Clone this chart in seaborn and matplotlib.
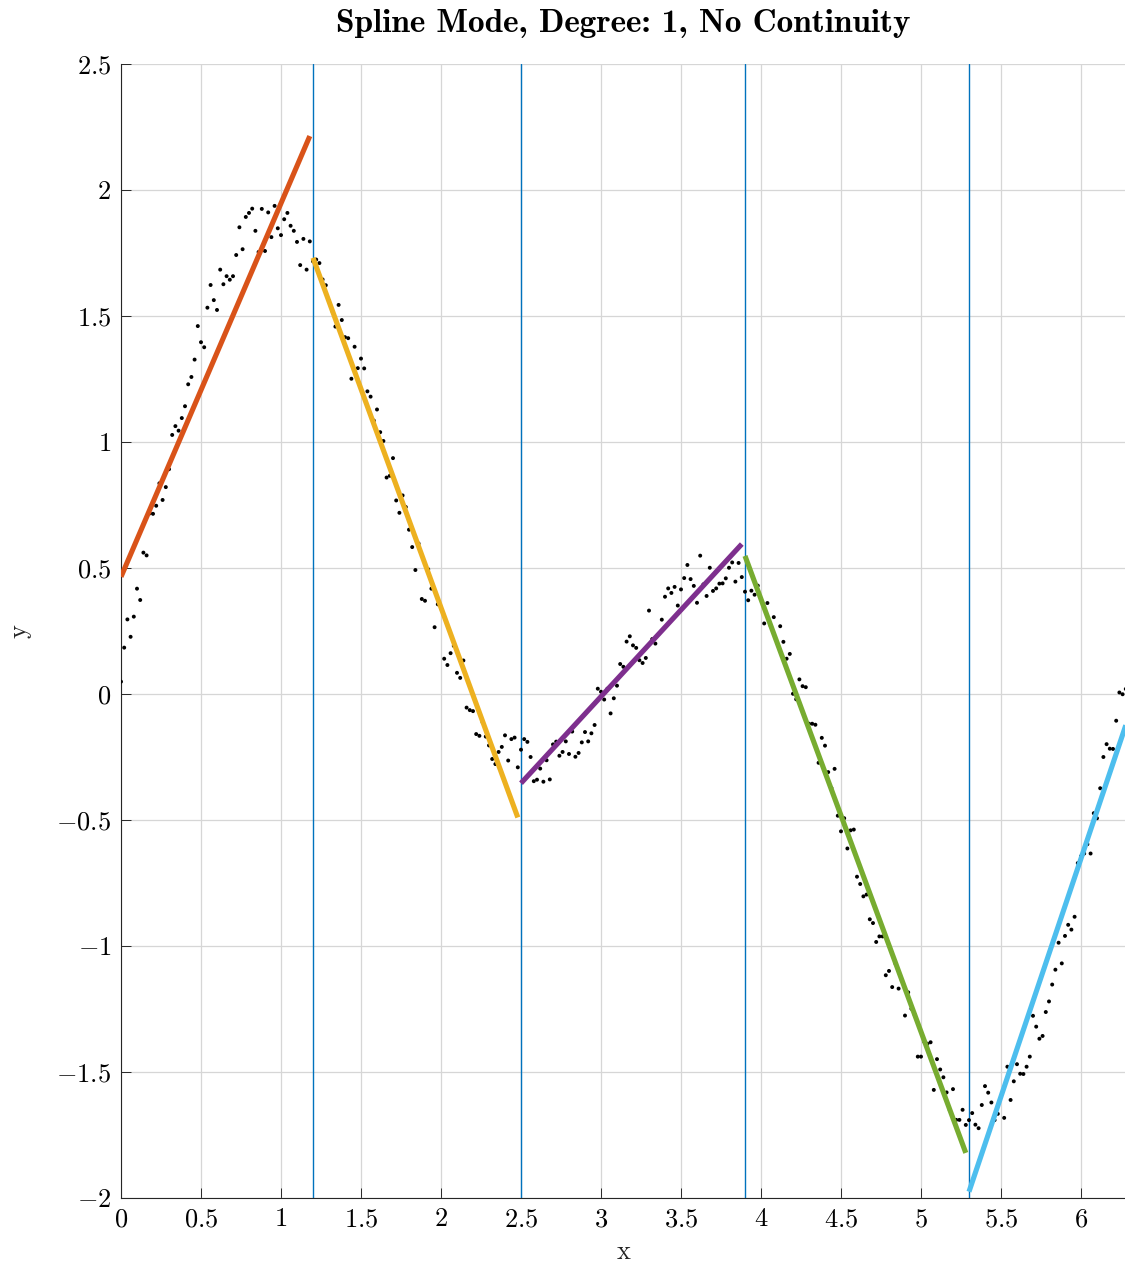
import numpy as np
import pandas as pd
import matplotlib
matplotlib.use("Agg")
import matplotlib.pyplot as plt
from matplotlib.ticker import FuncFormatter
import seaborn as sns

# Sample positions (step 0.02 from 0 to 6.28)
x_samples = np.linspace(0.0, 6.28, 315)

# Noisy measurements, in order of x
y_samples = [
    0.049, 0.184, 0.296, 0.227, 0.307, 0.418, 0.373, 0.561, 0.550, 0.717,
    0.715, 0.747, 0.836, 0.770, 0.821, 0.892, 1.028, 1.063, 1.045, 1.095,
    1.142, 1.229, 1.258, 1.327, 1.460, 1.396, 1.376, 1.533, 1.623, 1.563,
    1.524, 1.684, 1.626, 1.658, 1.644, 1.658, 1.742, 1.852, 1.765, 1.893,
    1.909, 1.926, 1.838, 1.754, 1.925, 1.758, 1.911, 1.813, 1.937, 1.848,
    1.821, 1.884, 1.909, 1.858, 1.838, 1.794, 1.702, 1.806, 1.684, 1.796,
    # 1.20 ..
    1.717, 1.724, 1.710, 1.645, 1.622, 1.561, 1.520, 1.458, 1.544, 1.484,
    1.416, 1.412, 1.251, 1.378, 1.293, 1.331, 1.292, 1.201, 1.180, 1.085,
    1.129, 1.039, 1.004, 0.859, 0.866, 0.936, 0.768, 0.719, 0.788, 0.742,
    0.652, 0.583, 0.492, 0.597, 0.377, 0.370, 0.495, 0.418, 0.265, 0.356,
    0.339, 0.140, 0.115, 0.162, 0.191, 0.084, 0.064, 0.133, -0.054, -0.064,
    -0.068, -0.159, -0.166, -0.112, -0.169, -0.204, -0.258, -0.278, -0.230, -0.210,
    -0.164, -0.264, -0.179, -0.173, -0.291, -0.221, -0.179, -0.190, -0.250, -0.346,
    -0.340,
    # 2.62 ..
    -0.296, -0.348, -0.263, -0.339, -0.200, -0.189, -0.245, -0.230, -0.188,
    -0.238, -0.149, -0.249, -0.234, -0.192, -0.151, -0.188, -0.156, -0.123, 0.021,
    0.009, -0.022, 0.021, -0.077, -0.017, 0.033, 0.119, 0.108, 0.208, 0.229,
    0.193, 0.183, 0.134, 0.123, 0.143, 0.331, 0.218, 0.200, 0.238, 0.295,
    0.386, 0.419, 0.401, 0.425, 0.351, 0.415, 0.460, 0.512, 0.456, 0.429,
    0.362, 0.549, 0.435, 0.389, 0.501, 0.409, 0.419, 0.438, 0.439, 0.459,
    0.501, 0.522, 0.446, 0.520, 0.464, 0.406, 0.372, 0.410, 0.394, 0.430,
    # 4.00 ..
    0.377, 0.280, 0.361, 0.272, 0.305, 0.204, 0.269, 0.207, 0.140, 0.159,
    0.001, -0.021, 0.058, 0.031, 0.027, -0.118, -0.118, -0.122, -0.273, -0.174,
    -0.205, -0.310, -0.373, -0.297, -0.483, -0.545, -0.493, -0.613, -0.541, -0.538,
    -0.725, -0.754, -0.803, -0.796, -0.894, -0.909, -0.984, -0.962, -0.962, -1.116,
    -1.099, -1.163, -1.069, -1.169, -1.137, -1.276, -1.184, -1.249, -1.272, -1.439,
    -1.439, -1.380, -1.388, -1.382, -1.571, -1.449, -1.490, -1.521, -1.581, -1.652,
    -1.568, -1.690, -1.690, -1.650, -1.710,
    # 5.30 ..
    -1.691, -1.663, -1.709, -1.723, -1.631, -1.556, -1.582, -1.621, -1.691, -1.666,
    -1.596, -1.682, -1.479, -1.611, -1.537, -1.469, -1.507, -1.508, -1.479, -1.439,
    -1.277, -1.320, -1.368, -1.357, -1.262, -1.220, -1.153, -1.094, -0.987, -1.069,
    -0.960, -0.916, -0.935, -0.884, -0.671, -0.644, -0.633, -0.596, -0.633, -0.473,
    -0.493, -0.374, -0.250, -0.199, -0.217, -0.218, -0.106, 0.006, -0.001, 0.020,
]

# Break points between pieces
breaks = [1.2, 2.5, 3.9, 5.3]

# Degree-1 fit of every piece: end points of each straight line
seg_x0 = [0.00, 1.20, 2.50, 3.90, 5.30]
seg_x1 = [1.18, 2.48, 3.88, 5.28, 6.28]
seg_y0 = [0.465, 1.731, -0.354, 0.548, -1.975]
seg_y1 = [2.214, -0.490, 0.595, -1.821, -0.124]
seg_colors = ["#D95319", "#EDB120", "#7E2F8E", "#77AC30", "#4DBEEE"]

x_ticks = [0, 0.5, 1, 1.5, 2, 2.5, 3, 3.5, 4, 4.5, 5, 5.5, 6]
y_ticks = [-2, -1.5, -1, -0.5, 0, 0.5, 1, 1.5, 2, 2.5]

sns.set_theme(style="white")
plt.rcParams["mathtext.fontset"] = "cm"
plt.rcParams["font.family"] = ["cmr10", "DejaVu Sans"]
plt.rcParams["axes.unicode_minus"] = False
plt.rcParams["text.color"] = "black"

points = pd.DataFrame({"x": x_samples, "y": y_samples})
rows = []
for i in range(len(seg_x0)):
    rows.append({"x": seg_x0[i], "y": seg_y0[i], "seg": i})
    rows.append({"x": seg_x1[i], "y": seg_y1[i], "seg": i})
segments = pd.DataFrame(rows)

fig = plt.figure(figsize=(11.25, 12.65), dpi=100)
W, H = 1125.0, 1265.0
ax = fig.add_axes([121 / W, (H - 1198) / H, (1126.3 - 121) / W, 1134 / H])

ax.grid(True, color="#d6d6d6", linewidth=0.9)
ax.set_axisbelow(True)

for b in breaks:
    ax.axvline(b, color="#0072BD", linewidth=1.0, zorder=2)

sns.scatterplot(data=points, x="x", y="y", ax=ax, color="black", s=8,
                edgecolor="none", linewidth=0, zorder=3)

sns.lineplot(data=segments, x="x", y="y", hue="seg", palette=seg_colors,
             ax=ax, linewidth=3.7, legend=False, sort=False, zorder=4,
             solid_capstyle="butt")

ax.set_xlim(0, 2 * np.pi)
ax.set_ylim(-2, 2.5)
ax.set_xticks(x_ticks)
ax.set_yticks(y_ticks)
fmt = FuncFormatter(lambda v, _: f"${v:g}$")
ax.xaxis.set_major_formatter(fmt)
ax.yaxis.set_major_formatter(fmt)
ax.tick_params(axis="both", which="major", direction="in", length=7,
               width=0.7, color="#262626", labelsize=19, pad=7,
               labelcolor="black", bottom=True, left=True, top=False, right=False)

for side in ["top", "right"]:
    ax.spines[side].set_visible(False)
for side in ["left", "bottom"]:
    ax.spines[side].set_color("#262626")
    ax.spines[side].set_linewidth(0.8)

ax.set_xlabel("x", fontfamily="cmr10", fontsize=19, labelpad=6, color="#262626")
ax.set_ylabel("y", fontfamily="cmr10", fontsize=19, labelpad=18, color="#262626")
ax.set_title("Spline Mode, Degree: 1, No Continuity", fontfamily="cmb10",
             fontsize=24, pad=23, color="black")

fig.savefig("out.png", dpi=100)
